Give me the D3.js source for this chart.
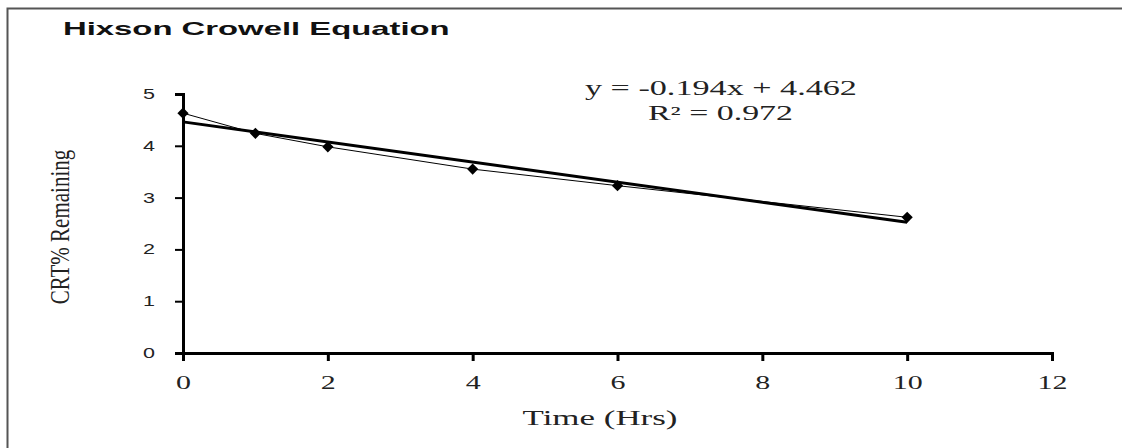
<!DOCTYPE html>
<html>
<head>
<meta charset="utf-8">
<script src="https://cdn.jsdelivr.net/npm/d3@7"></script>
<style>
  html, body { margin: 0; background: #fff; overflow: hidden; }
  svg { display: block; }
</style>
</head>
<body>
<div id="chart"></div>
<script>
var width = 1122; var height = 448;
var margin = { top: 94, right: 70, bottom: 95, left: 183 };

// data
var timeHrs = [0, 1, 2, 4, 6, 10];
var crtRemaining = [4.63, 4.24, 3.98, 3.55, 3.23, 2.62];
var xTicks = [0, 2, 4, 6, 8, 10, 12];
var yTicks = [0, 1, 2, 3, 4, 5];
var slope = -0.194; var intercept = 4.462; var r2 = 0.972;

var sans = "Arial, 'Liberation Sans', sans-serif";
var serif = "'Liberation Serif', 'Times New Roman', serif";

// the source picture is stretched sideways, so text is widened to the measured width
function stretchTo(sel, w) {
  sel.each(function (d) {
    var t = d3.select(this);
    var target = typeof w === "function" ? w(d) : w;
    var s = target / this.getComputedTextLength();
    var tx = +t.attr("x") || 0, ty = +t.attr("y") || 0;
    t.attr("x", 0).attr("y", 0)
      .attr("transform", "translate(" + tx + "," + ty + ") scale(" + s + ",1)");
  });
}

var svg = d3.select("#chart").append("svg")
    .attr("width", width)
    .attr("height", height);

// outer frame (only top and left edges visible)
svg.append("path")
    .attr("d", "M7.5," + height + "V8.5H" + width)
    .attr("fill", "none")
    .attr("stroke", "#555")
    .attr("stroke-width", 2);

var title = svg.append("text")
    .attr("x", 63)
    .attr("y", 35)
    .attr("font-family", sans)
    .attr("font-weight", "bold")
    .attr("font-size", 18)
    .attr("fill", "#111")
    .text("Hixson Crowell Equation");
stretchTo(title, 387);

var x = d3.scaleLinear().domain([0, 12]).range([margin.left, width - margin.right]);
var y = d3.scaleLinear().domain([0, 5]).range([height - margin.bottom, margin.top]);

// y axis
var yAxis = svg.append("g")
    .attr("transform", "translate(" + x(0) + ",0)")
    .call(d3.axisLeft(y).tickValues(yTicks).tickFormat(d3.format("d"))
      .tickSizeOuter(0).tickSize(8).tickPadding(20));
yAxis.select(".domain").attr("stroke", "#000").attr("stroke-width", 3);
yAxis.selectAll(".tick line").attr("stroke", "#000").attr("stroke-width", 2);
yAxis.selectAll("text")
    .attr("font-family", sans)
    .attr("font-size", 14)
    .attr("fill", "#222");
stretchTo(yAxis.selectAll("text"), 12);

// x axis
var xAxis = svg.append("g")
    .attr("transform", "translate(0," + y(0) + ")")
    .call(d3.axisBottom(x).tickValues(xTicks).tickFormat(d3.format("d"))
      .tickSizeOuter(0).tickSize(8).tickPadding(15));
xAxis.select(".domain").attr("stroke", "#000").attr("stroke-width", 3);
xAxis.selectAll(".tick line").attr("stroke", "#000").attr("stroke-width", 3);
xAxis.selectAll("text")
    .attr("font-family", serif)
    .attr("font-size", 19)
    .attr("fill", "#222");
stretchTo(xAxis.selectAll("text"), function (d) { return String(d).length * 15; });

var xTitle = svg.append("text")
    .attr("x", 600)
    .attr("y", 425)
    .attr("text-anchor", "middle")
    .attr("font-family", serif)
    .attr("font-size", 22)
    .attr("fill", "#222")
    .text("Time (Hrs)");
stretchTo(xTitle, 155);

svg.append("text")
    .attr("transform", "translate(69,227) scale(1.25,1) rotate(-90)")
    .attr("text-anchor", "middle")
    .attr("font-family", serif)
    .attr("font-size", 21)
    .attr("fill", "#222")
    .text("CRT% Remaining");

// trend line
svg.append("line")
    .attr("x1", x(0)).attr("y1", y(intercept))
    .attr("x2", x(10)).attr("y2", y(intercept + slope * 10))
    .attr("stroke", "#000")
    .attr("stroke-width", 3);

// data line
var line = d3.line()
    .x(function (d, i) { return x(timeHrs[i]); })
    .y(function (d) { return y(d); });
svg.append("path")
    .datum(crtRemaining)
    .attr("d", line)
    .attr("fill", "none")
    .attr("stroke", "#000")
    .attr("stroke-width", 1);

svg.selectAll(".pt")
    .data(crtRemaining)
    .enter()
    .append("path")
    .attr("class", "pt")
    .attr("d", d3.symbol().type(d3.symbolDiamond2).size(80))
    .attr("transform", function (d, i) {
      return "translate(" + x(timeHrs[i]) + "," + y(d) + ")";
    })
    .attr("fill", "#000");

// equation label
var eq = svg.append("g")
    .attr("font-family", serif)
    .attr("font-size", 20)
    .attr("fill", "#222");
stretchTo(eq.append("text").attr("x", 585).attr("y", 95)
    .text("y = " + slope + "x + " + intercept), 272);
stretchTo(eq.append("text").attr("x", 648).attr("y", 120)
    .text("R\u00b2 = " + r2), 145);
</script>
</body>
</html>
